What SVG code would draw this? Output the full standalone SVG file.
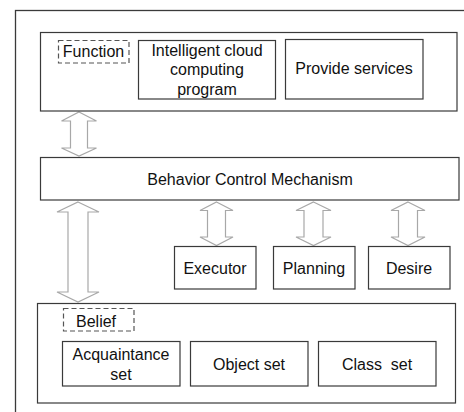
<svg xmlns="http://www.w3.org/2000/svg" width="464" height="412" viewBox="0 0 464 412">
<style>
.box{fill:#fff;stroke:#3a3a3a;stroke-width:1.2}
.dash{fill:none;stroke:#555;stroke-width:1.2;stroke-dasharray:5,3}
.arr{fill:#fff;stroke:#a8a8a8;stroke-width:1.2}
text{font-family:"Liberation Sans",Arial,sans-serif;font-size:16px;fill:#111;text-anchor:middle}
</style>
<rect x="0" y="0" width="464" height="412" fill="#fff"/>
<rect x="15.5" y="10.5" width="460" height="420" fill="none" stroke="#3a3a3a" stroke-width="1.3"/>
<g id="connectors">
<polygon class="arr" points="79,112 96.5,121 87.5,121 87.5,148 96.5,148 79,156 61.5,148 70.5,148 70.5,121 61.5,121"/>
<polygon class="arr" points="78,202 99,212 88,212 88,292 99,292 78,302 57,292 68,292 68,212 57,212"/>
<polygon class="arr" points="216.5,202 233,210.5 225.5,210.5 225.5,237 233,237 216.5,245.5 200,237 207.5,237 207.5,210.5 200,210.5"/>
<polygon class="arr" points="313.5,202 331,210.5 323,210.5 323,237 331,237 313.5,245.5 296,237 304,237 304,210.5 296,210.5"/>
<polygon class="arr" points="408,202 425,210.5 417.5,210.5 417.5,237 425,237 408,245.5 391,237 398.5,237 398.5,210.5 391,210.5"/>
</g>
<g id="function-layer">
<rect class="box" x="40.5" y="32.5" width="416.5" height="78.5"/>
</g>
<g id="function">
<rect class="dash" x="58.5" y="40.5" width="70.5" height="22.5"/>
<text x="93.5" y="57">Function</text>
</g>
<g id="intelligent-cloud">
<rect class="box" x="138.5" y="40.5" width="137" height="58.5"/>
<text x="207" y="55.5">Intelligent cloud</text>
<text x="207" y="75">computing</text>
<text x="207" y="94.5">program</text>
</g>
<g id="provide-services">
<rect class="box" x="285.5" y="39.5" width="137.5" height="59.5"/>
<text x="354" y="74">Provide services</text>
</g>
<g id="behavior-control">
<rect class="box" x="40.5" y="157.5" width="418.5" height="42.5"/>
<text x="250" y="184.5">Behavior Control Mechanism</text>
</g>
<g id="executor">
<rect class="box" x="174.5" y="246.5" width="81.5" height="42.5"/>
<text x="215" y="273.5">Executor</text>
</g>
<g id="planning">
<rect class="box" x="273.5" y="246.5" width="81.5" height="42.5"/>
<text x="314" y="273.5">Planning</text>
</g>
<g id="desire">
<rect class="box" x="368.5" y="246.5" width="81.5" height="42.5"/>
<text x="409" y="273.5">Desire</text>
</g>
<g id="belief-layer">
<rect class="box" x="37.5" y="303.5" width="418" height="99.5"/>
</g>
<g id="belief">
<rect class="dash" x="63.5" y="308.5" width="70.5" height="22.5"/>
<text x="76" y="326.5" style="text-anchor:start">Belief</text>
</g>
<g id="acquaintance-set">
<rect class="box" x="62.5" y="341.5" width="117.5" height="44.5"/>
<text x="121" y="359.5">Acquaintance</text>
<text x="121" y="379.5">set</text>
</g>
<g id="object-set">
<rect class="box" x="190.5" y="341.5" width="117.5" height="44.5"/>
<text x="249" y="369.5">Object set</text>
</g>
<g id="class-set">
<rect class="box" x="318.5" y="341.5" width="117.5" height="44.5"/>
<text x="377" y="369.5" xml:space="preserve">Class  set</text>
</g>
</svg>
